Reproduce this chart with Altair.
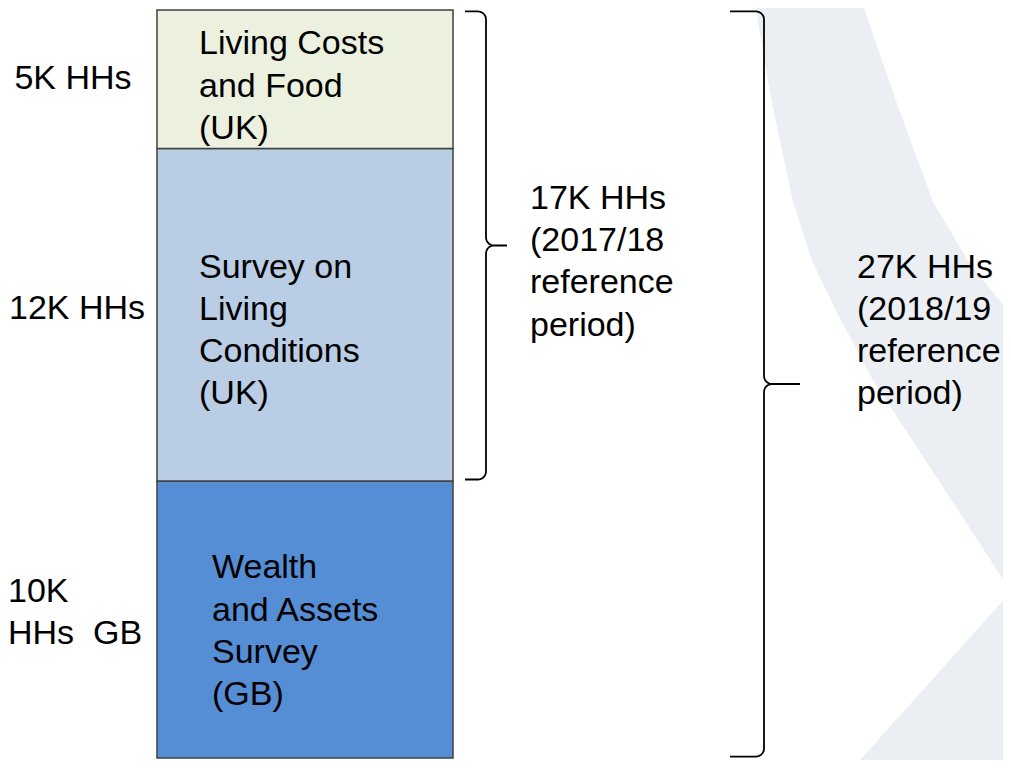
import altair as alt
import pandas as pd
import numpy as np

# ---- data ----
surveys = ["Wealth and Assets Survey (GB)", "Survey on Living Conditions (UK)", "Living Costs and Food (UK)"]
households_k = [10, 12, 5]
bar_labels = ["Wealth\nand Assets\nSurvey\n(GB)", "Survey on\nLiving\nConditions\n(UK)", "Living Costs\nand Food\n(UK)"]
side_labels = ["10K\nHHs \u00a0GB", "12K HHs", "5K HHs"]
fills = ["#558ED5", "#B9CDE5", "#EBF1DE"]
group_labels = ["17K HHs\n(2017/18\nreference\nperiod)", "27K HHs\n(2018/19\nreference\nperiod)"]
group_totals = [17, 27]

# ---- layout (reference pixel space) ----
TOTAL = sum(households_k)
PX_TOP, PX_BOT = 5, 766
def ky(px):
    return (PX_BOT - px) * TOTAL / (PX_BOT - PX_TOP)
def kpx(k):
    return PX_BOT - k * (PX_BOT - PX_TOP) / TOTAL

BAR_X0, BAR_X1 = 157, 453
FONT = "Liberation Sans"
FS = 34
LH = 42.3

cum = np.cumsum(households_k)
bars = pd.DataFrame({
    "survey": surveys,
    "k": households_k,
    "y0": cum - np.array(households_k),
    "y1": cum,
    "x0": BAR_X0,
    "x1": BAR_X1,
})

x_scale = alt.Scale(domain=[8, 1003], nice=False, zero=False)
y_scale = alt.Scale(domain=[0, TOTAL], nice=False, zero=False)

bar_layer = alt.Chart(bars).mark_rect(stroke="#404040", strokeWidth=1.5).encode(
    x=alt.X("x0:Q", scale=x_scale, axis=None),
    x2="x1:Q",
    y=alt.Y("y0:Q", scale=y_scale, axis=None),
    y2="y1:Q",
    color=alt.Color("survey:N", scale=alt.Scale(domain=surveys, range=fills), legend=None),
)

def text_layer(df, align):
    return alt.Chart(df).mark_text(
        align=align, baseline="middle", font=FONT, fontSize=FS, lineBreak="\n", lineHeight=LH, color="black"
    ).encode(
        x=alt.X("x:Q", scale=x_scale, axis=None),
        y=alt.Y("y:Q", scale=y_scale, axis=None),
        text="label:N",
    )

# (left x, first-line centre y) in reference pixels
bar_text_px = [(212, 573), (199, 267), (199, 40)]
bt = pd.DataFrame({
    "label": bar_labels,
    "x": [p[0] for p in bar_text_px],
    "y": [ky(p[1]) for p in bar_text_px],
})
bar_text = text_layer(bt, "left")

side_px = [(8, 597, "left"), (9, 309, "left"), (73, 75, "center")]
side_layers = []
for lab, (sx, sy, al) in zip(side_labels, side_px):
    d = pd.DataFrame({"label": [lab], "x": [sx], "y": [ky(sy)]})
    side_layers.append(text_layer(d, al))

def brace_pts(xs, xv, xtip, ytop, ymid, ybot, r=8, n=6):
    pts = [(xs, ytop)]
    def arc(cx, cy, a0, a1):
        for a in np.linspace(np.radians(a0), np.radians(a1), n):
            pts.append((cx + r * np.cos(a), cy + r * np.sin(a)))
    arc(xv - r, ytop + r, -90, 0)
    arc(xv + r, ymid - r, 180, 90)
    pts.append((xtip, ymid))
    arc(xv + r, ymid + r, 270, 180)
    arc(xv - r, ybot - r, 0, 90)
    pts.append((xs, ybot))
    return pts

brace_x = [(465, 486, 507), (730, 764, 800)]
brace_layers = []
for gi, (tot, (xs, xv, xt)) in enumerate(zip(group_totals, brace_x)):
    lo = TOTAL - tot
    hi = TOTAL
    ytop = kpx(hi) + 1.5
    ybot = kpx(lo) - 1.5
    ymid = kpx((lo + hi) / 2)
    rows = [{"i": i, "x": float(px), "y": float(ky(py))}
            for i, (px, py) in enumerate(brace_pts(xs, xv, xt, ytop, ymid, ybot))]
    brace_layers.append(
        alt.Chart(pd.DataFrame(rows)).mark_line(color="black", strokeWidth=1.8).encode(
            x=alt.X("x:Q", scale=x_scale, axis=None),
            y=alt.Y("y:Q", scale=y_scale, axis=None),
            order="i:Q",
        )
    )

grp_px = [(530, 197), (857, 267)]
gt = pd.DataFrame({
    "label": group_labels,
    "x": [p[0] for p in grp_px],
    "y": [ky(p[1]) for p in grp_px],
})
grp_text = text_layer(gt, "left")

# background watermark
wm_upper_y = [0, 100, 200, 260, 315, 380, 450, 520, 597]
wm_upper_l = [755, 772, 793, 812, 838, 872, 917, 962, 1011]
wm_upper_r = [863, 897, 933, 968, 1011, 1011, 1011, 1011, 1011]
wm_lower_y = [597, 768]
wm_lower_l = [1011, 860]
wm_lower_r = [1011, 1011]

def wm_layer(ys, ls, rs):
    d = pd.DataFrame({"y": [float(ky(v)) for v in ys], "xl": ls, "xr": rs})
    return alt.Chart(d).mark_area(orient="horizontal", color="#EBEFF4", opacity=1).encode(
        y=alt.Y("y:Q", scale=y_scale, axis=None),
        x=alt.X("xl:Q", scale=x_scale, axis=None, stack=None),
        x2="xr:Q",
    )

chart = alt.layer(
    wm_layer(wm_upper_y, wm_upper_l, wm_upper_r),
    wm_layer(wm_lower_y, wm_lower_l, wm_lower_r),
    bar_layer, *brace_layers, bar_text, grp_text, *side_layers,
).properties(
    width=995,
    height=748,
    autosize=alt.AutoSizeParams(type="none"),
    padding={"left": 0, "right": 0, "top": 2, "bottom": 2},
    background="white",
).configure_view(stroke=None)

chart.save("out.html", embed_options={"renderer": "svg", "actions": False})
